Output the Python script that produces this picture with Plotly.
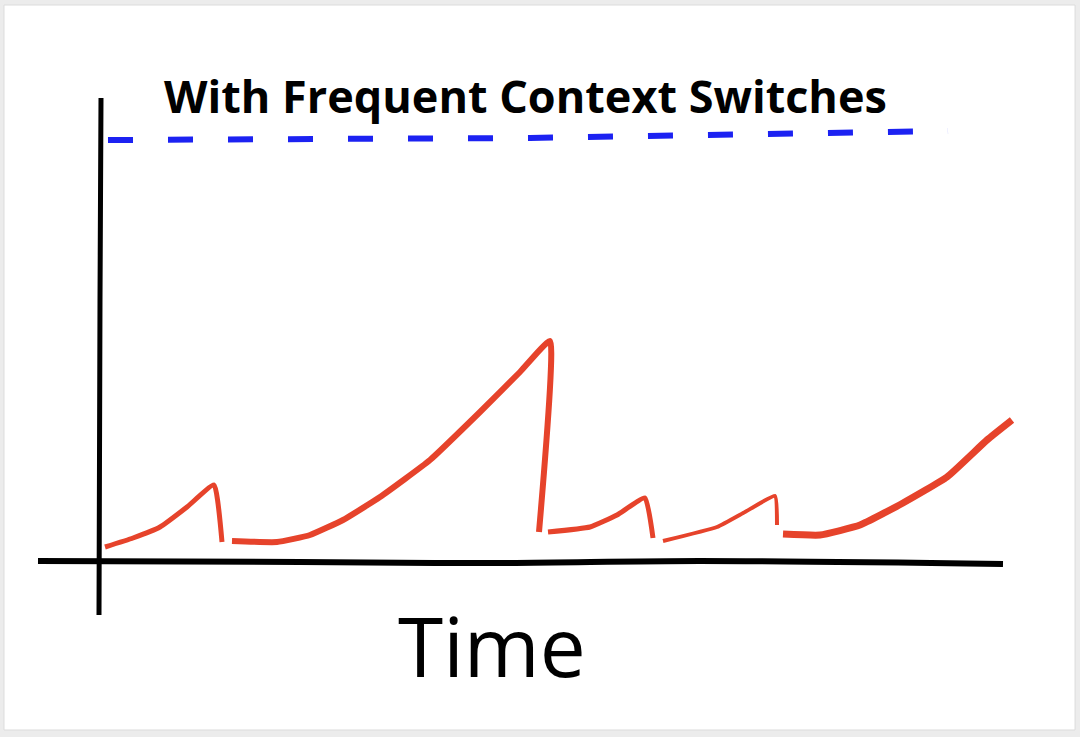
import plotly.graph_objects as go

# ---- data (time units, value units) ----
s1_t = [0.05, 0.33, 0.60, 0.87, 1.14, 1.22]
s1_v = [0.14, 0.23, 0.34, 0.54, 0.76, 0.19]

s2_t = [1.32, 1.77, 2.10, 2.43, 2.80, 3.30, 3.80, 4.20, 4.50, 4.39]
s2_v = [0.20, 0.19, 0.26, 0.41, 0.64, 1.01, 1.49, 1.89, 2.20, 0.29]

s3_t = [4.48, 4.90, 5.17, 5.45, 5.53]
s3_v = [0.29, 0.34, 0.46, 0.63, 0.23]

s4_t = [5.63, 6.17, 6.45, 6.75, 6.77]
s4_v = [0.20, 0.34, 0.49, 0.65, 0.36]

s5_t = [6.83, 7.20, 7.60, 8.03, 8.47, 8.87, 9.12]
s5_v = [0.27, 0.26, 0.36, 0.58, 0.84, 1.21, 1.41]

ref_t = [0.08, 4.30, 8.48]
ref_v = [4.21, 4.23, 4.30]

xaxis_t = [-0.62, 2.0, 4.0, 6.0, 9.03]
xaxis_v = [0.0, -0.01, -0.02, 0.0, -0.03]

yaxis_t = [0.01, 0.0, -0.01]
yaxis_v = [4.63, 2.61, -0.54]

title_text = "With Frequent Context Switches"
xlabel_text = "Time"

RED = "#e6432b"
BLUE = "#1c22f2"
BLACK = "#000000"

fig = go.Figure()

# axes
fig.add_trace(go.Scatter(x=xaxis_t, y=xaxis_v, mode="lines",
                         line=dict(color=BLACK, width=6, shape="spline"), hoverinfo="skip"))
fig.add_trace(go.Scatter(x=yaxis_t, y=yaxis_v, mode="lines",
                         line=dict(color=BLACK, width=5, shape="spline"), hoverinfo="skip"))

# dashed reference line
fig.add_trace(go.Scatter(x=ref_t, y=ref_v, mode="lines",
                         line=dict(color=BLUE, width=6, dash="25px,35px"), hoverinfo="skip"))

# red strokes
for t, v, w in [(s1_t, s1_v, 5), (s2_t, s2_v, 6), (s3_t, s3_v, 5),
                (s4_t, s4_v, 4), (s5_t, s5_v, 7)]:
    fig.add_trace(go.Scatter(x=t, y=v, mode="lines",
                             line=dict(color=RED, width=w, shape="spline", smoothing=0.4),
                             hoverinfo="skip"))

# text
fig.add_annotation(x=4.25, y=4.66, text=title_text, showarrow=False,
                   font=dict(family="Open Sans", size=45, color=BLACK, weight="bold"),
                   xanchor="center", yanchor="middle")
fig.add_annotation(x=3.92, y=-0.84, text=xlabel_text, showarrow=False,
                   font=dict(family="Open Sans", size=82, color=BLACK),
                   xanchor="center", yanchor="middle")

# card background
fig.add_shape(type="rect", xref="paper", yref="paper",
              x0=0.0037, x1=0.9954, y0=0.0095, y1=0.9932,
              fillcolor="white", line=dict(color="#dcdcdc", width=1), layer="below")

fig.update_layout(
    width=1080, height=737,
    margin=dict(l=0, r=0, t=0, b=0),
    paper_bgcolor="#ececec", plot_bgcolor="rgba(0,0,0,0)",
    showlegend=False,
    xaxis=dict(range=[-1.0, 9.8], visible=False, fixedrange=True),
    yaxis=dict(range=[-1.76, 5.61], visible=False, fixedrange=True),
)

fig.write_html("out.html", config={"displayModeBar": False},
               post_script="document.body.style.margin='0px';document.body.style.overflow='hidden';")
